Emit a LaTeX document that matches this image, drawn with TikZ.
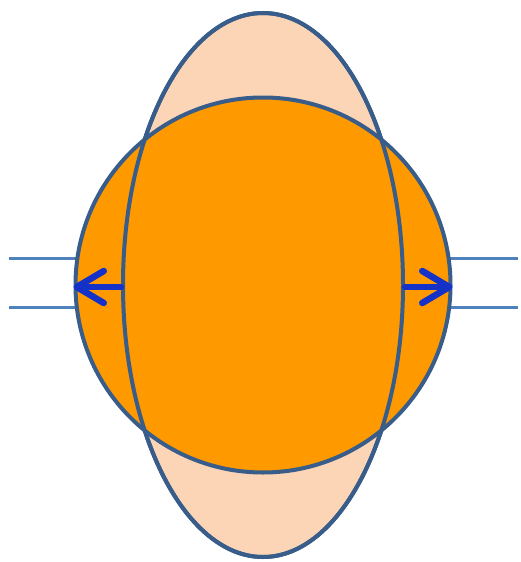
\documentclass[tikz,border=0pt]{standalone}
\usepackage{xcolor}
\usepackage{tikz}
\usetikzlibrary{arrows.meta, shapes.geometric}

\definecolor{rimblue}{RGB}{56,93,138}
\definecolor{fieldblue}{RGB}{79,129,189}
\definecolor{bodyorange}{RGB}{255,153,0}
\definecolor{peach}{RGB}{251,213,181}
\definecolor{pushblue}{RGB}{20,50,200}

\begin{document}
\begin{tikzpicture}[
    x=1pt, y=-1pt,
    rim/.style={draw=rimblue, line width=4pt},
    fieldline/.style={draw=fieldblue, line width=3pt},
    egg/.style={ellipse, rim, fill=peach, minimum width=280pt, minimum height=544pt, inner sep=0pt},
    drop/.style={circle, rim, fill=bodyorange, minimum size=375pt, inner sep=0pt},
    push/.style={draw=pushblue, line width=6.5pt, line cap=round, -{Straight Barb[round, length=27pt, width=32pt]}},
]
\useasboundingbox (0,0) rectangle (520,562);

% Field lines on both sides
\coordinate (la) at (9,258);
\coordinate (lb) at (9,307);
\coordinate (ra) at (518,258);
\coordinate (rb) at (518,307);
\coordinate (mid) at (263,285);

\foreach \p in {la, lb, ra, rb} {
    \draw[fieldline] (\p) -- (\p -| mid);
}

% Stretched shape behind, round shape in front
\node[egg] (ell) at (mid) {};
\node[drop] (circ) at (mid) {};
\draw[rim] (ell.center) ellipse [x radius=140pt, y radius=272pt];

% Arrows
\draw[push] ([yshift=-2pt]ell.west) -- ([yshift=-2pt]circ.west);
\draw[push] ([yshift=-2pt]ell.east) -- ([yshift=-2pt]circ.east);

\end{tikzpicture}
\end{document}
